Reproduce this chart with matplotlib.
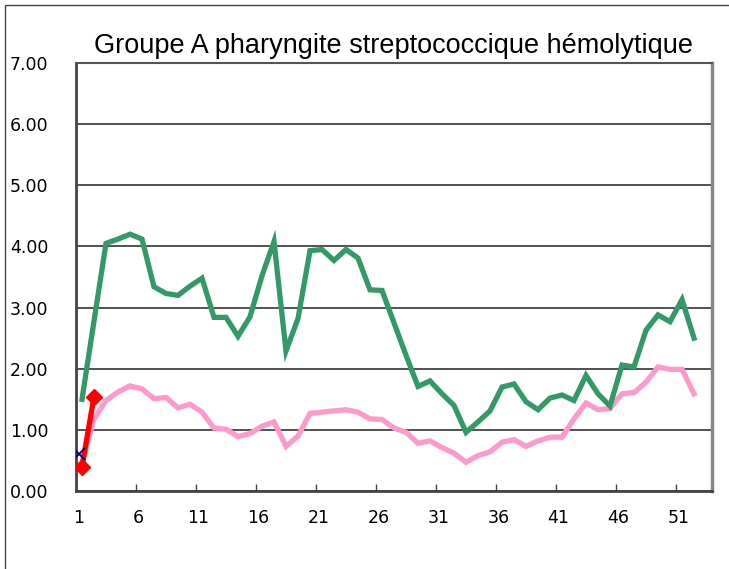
import matplotlib
matplotlib.use('Agg')

import matplotlib.pyplot as plt
from matplotlib.patches import Rectangle
import numpy as np

# weekly values, weeks 1..52 (axis has 53 categories)
green = [1.50, 2.78, 4.05, 4.12, 4.20, 4.12, 3.34, 3.23, 3.20, 3.35,
         3.48, 2.84, 2.84, 2.53, 2.85, 3.52, 4.08, 2.29, 2.82, 3.93,
         3.95, 3.77, 3.95, 3.81, 3.29, 3.28, 2.75, 2.22, 1.71, 1.80,
         1.59, 1.40, 0.96, 1.13, 1.31, 1.70, 1.75, 1.46, 1.33, 1.52,
         1.57, 1.48, 1.89, 1.59, 1.39, 2.06, 2.03, 2.63, 2.88, 2.77,
         3.13, 2.50]
pink = [0.45, 1.18, 1.48, 1.62, 1.72, 1.67, 1.51, 1.53, 1.36, 1.42,
        1.29, 1.03, 1.01, 0.89, 0.94, 1.06, 1.13, 0.73, 0.90, 1.27,
        1.29, 1.31, 1.33, 1.29, 1.18, 1.17, 1.03, 0.96, 0.78, 0.82,
        0.71, 0.62, 0.47, 0.58, 0.64, 0.80, 0.84, 0.73, 0.82, 0.88,
        0.88, 1.18, 1.44, 1.33, 1.35, 1.59, 1.61, 1.78, 2.03, 1.99,
        1.99, 1.59]
red = [0.40, 1.54]
blue = [0.60]
n_weeks = 53
x_labels = [str(k) for k in range(1, 52, 5)]

fig = plt.figure(figsize=(7.29, 5.69), dpi=100)
ax = fig.add_axes([76/729, 78/569, 636/729, 428/569])

ax.plot(np.arange(1, len(green)+1), green, color='#339966', lw=3.8, solid_joinstyle='miter', zorder=3)
ax.plot(np.arange(1, len(pink)+1), pink, color='#FF99CC', lw=3.8, solid_joinstyle='miter', zorder=2)
ax.plot(np.arange(1, len(red)+1), red, color='#FF0000', lw=3.8, marker='D', ms=8, zorder=4)
ax.plot(np.arange(1, len(blue)+1) - 0.25, blue, color='#000080', lw=0, marker='x', ms=8, mew=1.3, zorder=5)

ax.set_xlim(0.5, n_weeks + 0.5)
ax.set_ylim(0, 7)
ax.set_yticks(np.arange(0, 7.01, 1))
ax.set_yticklabels(['%.2f' % v for v in np.arange(0, 7.01, 1)])
ax.yaxis.grid(True, color='#222222', lw=1.1)
ax.set_axisbelow(True)

ax.set_xticks([int(s) - 0.3 for s in x_labels])
ax.set_xticklabels(x_labels)
ax.set_xticks(np.arange(5.5, n_weeks, 5), minor=True)
ax.tick_params(axis='x', which='major', length=0, pad=13, labelsize=12.5)
ax.tick_params(axis='x', which='minor', direction='in', length=5, width=1, color='#444444')
ax.tick_params(axis='y', length=0, pad=20, labelsize=12.5)

for s in ['left', 'bottom']:
    ax.spines[s].set_color('#444444')
    ax.spines[s].set_linewidth(2)
ax.spines['right'].set_color('#888888')
ax.spines['right'].set_linewidth(2.5)
ax.spines['top'].set_color('#555555')
ax.spines['top'].set_linewidth(1.5)

ax.set_title('Groupe A pharyngite streptococcique hémolytique',
             family='Liberation Sans', fontsize=19.5, pad=7)

fig.patches.append(Rectangle((5/729, -0.1), 1.2, (564/569) + 0.1, transform=fig.transFigure,
                             fill=False, edgecolor='#444444', lw=1))

plt.savefig('out.png', dpi=100)
